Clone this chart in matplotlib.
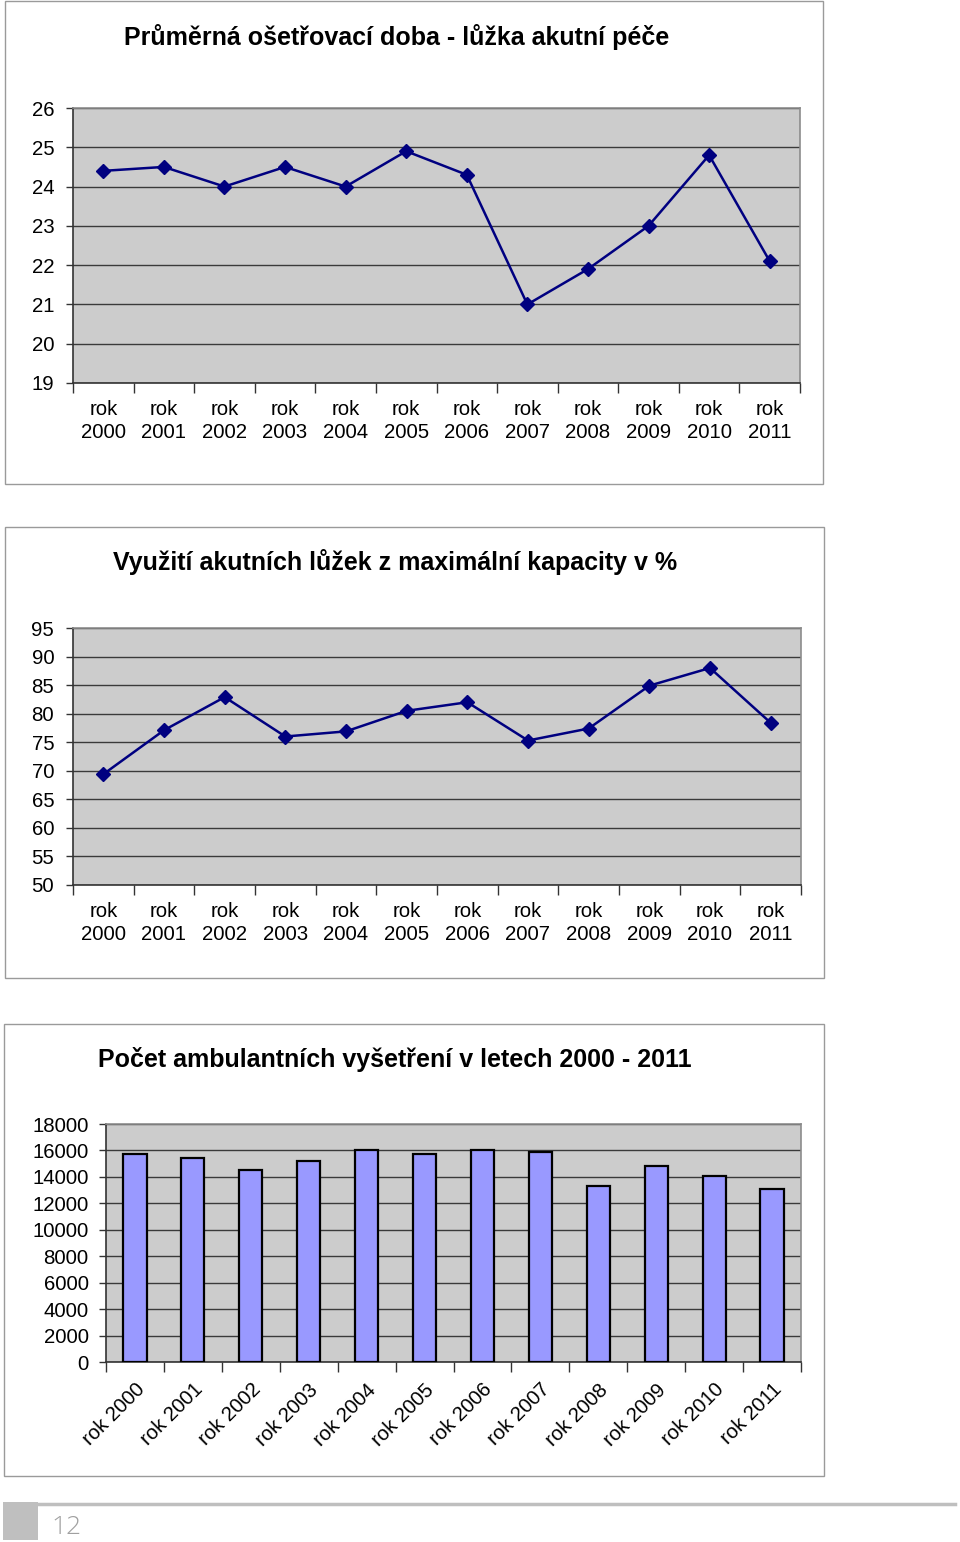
import matplotlib
matplotlib.use("Agg")
import matplotlib.pyplot as plt
from matplotlib.patches import Rectangle
from matplotlib.lines import Line2D
import numpy as np

plt.rcParams['font.family'] = ['Liberation Sans', 'DejaVu Sans']

years = ["2000", "2001", "2002", "2003", "2004", "2005",
         "2006", "2007", "2008", "2009", "2010", "2011"]
labels_two_line = ["rok\n" + y for y in years]
labels_one_line = ["rok " + y for y in years]

osetrovaci_doba = [24.4, 24.5, 24.0, 24.5, 24.0, 24.9, 24.3, 21.0, 21.9, 23.0, 24.8, 22.1]
vyuziti_luzek = [69.4, 77.1, 82.9, 76.0, 76.9, 80.5, 82.0, 75.3, 77.4, 84.9, 88.0, 78.4]
ambulantni = [15750, 15400, 14500, 15200, 16000, 15750, 16050, 15900, 13300, 14800, 14050, 13100]

title1 = "Průměrná ošetřovací doba - lůžka akutní péče"
title2 = "Využití akutních lůžek z maximální kapacity v %"
title3 = "Počet ambulantních vyšetření v letech 2000 - 2011"
page_no = "12"

W, H = 960, 1542
fig = plt.figure(figsize=(W / 100, H / 100), dpi=100)
fig.patch.set_facecolor("white")

TICK_FS = 14.7
TITLE_FS = 18


def fx(px):
    return px / W


def fy(py):
    return 1 - py / H


def panel(x0, y0, x1, y1):
    fig.patches.append(Rectangle((fx(x0), fy(y1)), fx(x1 - x0), (y1 - y0) / H,
                                 transform=fig.transFigure, fill=False,
                                 edgecolor="#9a9a9a", linewidth=1.0))


def make_axes(x0, y0, x1, y1, ypad):
    ax = fig.add_axes([fx(x0), fy(y1), fx(x1 - x0), (y1 - y0) / H])
    ax.set_facecolor("#cccccc")
    ax.set_axisbelow(True)
    ax.grid(axis="y", color="#3a3a3a", linewidth=1.0)
    ax.spines["left"].set_color("#333333")
    ax.spines["bottom"].set_color("#333333")
    ax.spines["top"].set_color("#8c8c8c")
    ax.spines["right"].set_color("#8c8c8c")
    for s in ax.spines.values():
        s.set_linewidth(1.2)
    ax.set_xlim(-0.5, len(years) - 0.5)
    ax.set_xticks(np.arange(-0.5, len(years) + 0.5, 1.0))
    ax.set_xticklabels([])
    ax.tick_params(axis="x", which="major", length=7, width=1, color="#333333", direction="out")
    ax.tick_params(axis="y", which="major", length=5, width=1, color="#333333",
                   direction="out", labelsize=TICK_FS, pad=ypad)
    return ax


x = np.arange(len(years))

# ---------- Chart 1 ----------
panel(5, 1, 823, 484)
ax1 = make_axes(73, 108, 800, 383, 8.5)
ax1.plot(x, osetrovaci_doba, color="#000080", linewidth=1.8, marker="D", markersize=7,
         markerfacecolor="#000080", markeredgecolor="#000080")
ax1.set_ylim(19, 26)
ax1.set_yticks(range(19, 27))
ax1.set_xticks(x, minor=True)
ax1.set_xticklabels(labels_two_line, minor=True, fontsize=TICK_FS, linespacing=1.3)
ax1.tick_params(axis="x", which="minor", length=0, pad=12)
fig.text(fx(397), fy(37), title1, ha="center", va="center", fontsize=TITLE_FS, fontweight="bold")

# ---------- Chart 2 ----------
panel(5, 527, 824, 978)
ax2 = make_axes(73, 628, 801, 885, 8.5)
ax2.plot(x, vyuziti_luzek, color="#000080", linewidth=1.8, marker="D", markersize=7,
         markerfacecolor="#000080", markeredgecolor="#000080")
ax2.set_ylim(50, 95)
ax2.set_yticks(range(50, 96, 5))
ax2.set_xticks(x, minor=True)
ax2.set_xticklabels(labels_two_line, minor=True, fontsize=TICK_FS, linespacing=1.3)
ax2.tick_params(axis="x", which="minor", length=0, pad=12)
fig.text(fx(395), fy(562), title2, ha="center", va="center", fontsize=TITLE_FS, fontweight="bold")

# ---------- Chart 3 ----------
panel(4, 1024, 824, 1476)
ax3 = make_axes(106, 1124, 801, 1362, 7.5)
ax3.bar(x, ambulantni, width=0.4, color="#9999ff", edgecolor="#000000", linewidth=1.6, zorder=3)
ax3.set_ylim(0, 18000)
ax3.set_yticks(range(0, 18001, 2000))
ax3.set_xticks(x, minor=True)
ax3.set_xticklabels(labels_one_line, minor=True, fontsize=TICK_FS, rotation=45,
                    ha="right", rotation_mode="anchor")
ax3.tick_params(axis="x", which="minor", length=0, pad=13)
fig.text(fx(395), fy(1059), title3, ha="center", va="center", fontsize=TITLE_FS, fontweight="bold")

# ---------- Footer ----------
fig.patches.append(Rectangle((fx(3), fy(1540)), fx(35), 38 / H, transform=fig.transFigure,
                             facecolor="#bfbfbf", edgecolor="none"))
fig.lines.append(Line2D([fx(38), fx(955)], [fy(1503.5), fy(1503.5)], transform=fig.transFigure,
                        color="#bfbfbf", linewidth=2.5))
fig.text(fx(51), fy(1527), page_no, ha="left", va="center", fontsize=19, color="#a0a0a0",
         family=["Open Sans", "DejaVu Sans"], fontweight="light")

fig.savefig("out.png", dpi=100, facecolor="white")
